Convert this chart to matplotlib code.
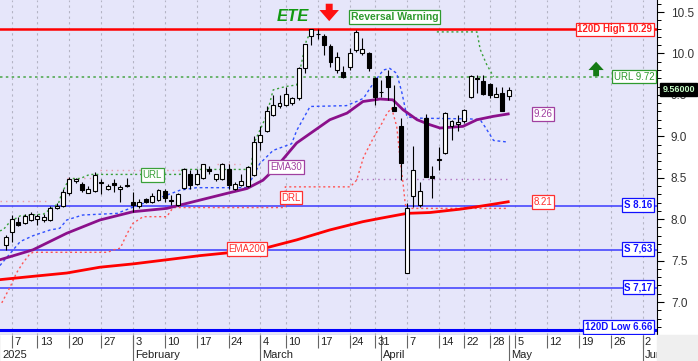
import numpy as np
import pandas as pd
import matplotlib
matplotlib.use('Agg')
import matplotlib.pyplot as plt
from matplotlib.ticker import MultipleLocator
from matplotlib.transforms import blended_transform_factory
from matplotlib.patches import Rectangle

plt.rcParams['font.family'] = ['Liberation Sans', 'DejaVu Sans']

# Athens exchange holidays 2025 (the axis only counts trading days)
HOLIDAYS = ['2025-01-01', '2025-01-06', '2025-03-03', '2025-03-25',
            '2025-04-18', '2025-04-21', '2025-05-01', '2025-06-09']

# daily candles
dates = ['2025-01-03', '2025-01-07', '2025-01-08', '2025-01-09', '2025-01-10',
         '2025-01-13', '2025-01-14', '2025-01-15', '2025-01-16', '2025-01-17',
         '2025-01-20', '2025-01-21', '2025-01-22', '2025-01-23', '2025-01-24',
         '2025-01-27', '2025-01-28', '2025-01-29', '2025-01-30', '2025-01-31',
         '2025-02-03', '2025-02-04', '2025-02-05', '2025-02-06', '2025-02-07',
         '2025-02-10', '2025-02-11', '2025-02-12', '2025-02-13', '2025-02-14',
         '2025-02-17', '2025-02-18', '2025-02-19', '2025-02-20', '2025-02-21',
         '2025-02-24', '2025-02-25', '2025-02-26', '2025-02-27', '2025-02-28',
         '2025-03-04', '2025-03-05', '2025-03-06', '2025-03-07',
         '2025-03-10', '2025-03-11', '2025-03-12', '2025-03-13', '2025-03-14',
         '2025-03-17', '2025-03-18', '2025-03-19', '2025-03-20', '2025-03-21',
         '2025-03-24', '2025-03-26', '2025-03-27', '2025-03-28',
         '2025-03-31', '2025-04-01', '2025-04-02', '2025-04-03', '2025-04-04',
         '2025-04-07', '2025-04-08', '2025-04-09', '2025-04-10', '2025-04-11',
         '2025-04-14', '2025-04-15', '2025-04-16', '2025-04-17',
         '2025-04-22', '2025-04-23', '2025-04-24', '2025-04-25',
         '2025-04-28', '2025-04-29', '2025-04-30', '2025-05-02']
opens = [7.69, 7.85, 7.96, 7.95, 7.99, 8.00, 7.99, 7.99, 8.13, 8.16,
         8.31, 8.46, 8.43, 8.32, 8.34, 8.44, 8.37, 8.44, 8.36, 8.40,
         8.21, 8.16, 8.24, 8.21, 8.23, 8.34, 8.23, 8.17, 8.38, 8.55,
         8.42, 8.50, 8.61, 8.49, 8.48, 8.61, 8.37, 8.41, 8.40, 8.53,
         8.93, 9.06, 9.26, 9.37, 9.38, 9.40, 9.46, 9.82, 10.21,
         10.24, 10.21, 10.09, 9.80, 9.78, 9.84, 10.04, 10.01, 10.00,
         9.70, 9.53, 9.73, 9.35, 9.12, 7.35, 8.28, 8.17, 9.22, 8.52,
         8.72, 8.80, 9.12, 9.15, 9.18, 9.47, 9.70, 9.67,
         9.63, 9.47, 9.52, 9.49]
highs = [7.81, 8.05, 8.03, 8.06, 8.09, 8.06, 8.06, 8.16, 8.19, 8.36,
         8.51, 8.50, 8.45, 8.40, 8.57, 8.48, 8.43, 8.49, 8.41, 8.50,
         8.33, 8.24, 8.26, 8.32, 8.36, 8.36, 8.29, 8.32, 8.62, 8.59,
         8.61, 8.67, 8.64, 8.55, 8.68, 8.66, 8.45, 8.55, 8.64, 9.00,
         9.12, 9.36, 9.50, 9.50, 9.60, 9.48, 9.84, 10.12, 10.30,
         10.29, 10.24, 10.11, 10.02, 9.85, 10.06, 10.28, 10.19, 10.02,
         9.72, 9.68, 9.80, 9.62, 9.22, 8.20, 8.88, 8.45, 9.27, 8.64,
         8.87, 9.29, 9.20, 9.26, 9.33, 9.74, 9.74, 9.74,
         9.64, 9.60, 9.60, 9.60]
lows = [7.63, 7.72, 7.92, 7.94, 7.98, 7.93, 7.97, 7.98, 8.12, 8.15,
        8.29, 8.44, 8.33, 8.31, 8.33, 8.30, 8.35, 8.33, 8.21, 8.39,
        8.09, 8.13, 8.20, 8.19, 8.22, 8.21, 8.17, 8.16, 8.37, 8.37,
        8.41, 8.49, 8.55, 8.46, 8.47, 8.37, 8.35, 8.40, 8.39, 8.52,
        8.83, 9.05, 9.24, 9.34, 9.37, 9.38, 9.44, 9.76, 10.10,
        10.18, 9.98, 9.84, 9.77, 9.70, 9.80, 10.02, 9.98, 9.79,
        9.38, 9.48, 9.44, 9.30, 8.47, 7.35, 8.15, 8.15, 8.51, 8.25,
        8.59, 8.79, 8.96, 9.06, 9.16, 9.46, 9.52, 9.50,
        9.46, 9.47, 9.31, 9.44]
closes = [7.78, 8.00, 7.93, 8.04, 8.06, 8.04, 8.03, 8.13, 8.16, 8.33,
          8.49, 8.48, 8.35, 8.36, 8.53, 8.45, 8.40, 8.41, 8.39, 8.41,
          8.17, 8.21, 8.21, 8.28, 8.35, 8.26, 8.22, 8.30, 8.60, 8.41,
          8.55, 8.66, 8.58, 8.54, 8.66, 8.41, 8.42, 8.46, 8.63, 8.93,
          9.02, 9.31, 9.38, 9.40, 9.51, 9.46, 9.83, 10.11, 10.29,
          10.23, 10.10, 9.90, 9.96, 9.72, 10.01, 10.26, 10.05, 9.82,
          9.48, 9.54, 9.60, 9.30, 8.68, 8.13, 8.59, 8.34, 8.51, 8.50,
          8.73, 9.28, 9.18, 9.17, 9.32, 9.73, 9.69, 9.51,
          9.50, 9.51, 9.31, 9.56]

# indicator lines, sampled off the chart (x in trading-day units)
ema30_x = [0.1, 5.3, 10.6, 15.8, 21.0, 26.3, 31.5, 36.2, 38.9, 41.4, 43.3, 46.7,
           51.9, 54.6, 57.1, 59.8, 61.8, 63.4, 65.6, 67.6, 69.2, 72.8, 73.9, 75.0,
           77.5, 79.9]
ema30_v = [7.51, 7.63, 7.83, 7.99, 8.09, 8.13, 8.23, 8.32, 8.37, 8.47, 8.61, 8.92,
           9.20, 9.28, 9.42, 9.45, 9.44, 9.32, 9.20, 9.14, 9.10, 9.12, 9.16, 9.20,
           9.24, 9.27]
ema200_x = [0.1, 5.3, 10.6, 15.8, 21.0, 26.3, 31.5, 36.7, 41.7, 46.7, 51.9, 57.1,
            59.8, 64.0, 67.6, 72.3, 75.0, 77.5, 79.9]
ema200_v = [7.27, 7.31, 7.35, 7.42, 7.46, 7.51, 7.56, 7.60, 7.65, 7.75, 7.87, 7.97,
            8.01, 8.07, 8.08, 8.12, 8.15, 8.18, 8.21]
band_x = [0.1, 3.3, 5.3, 8.0, 9.5, 10.6, 13.1, 18.5, 20.5, 22.6, 26.3, 28.4, 31.0,
          38.8, 39.4, 40.9, 43.0, 45.9, 46.7, 48.8, 54.5, 56.1, 57.2, 58.2, 59.3,
          60.3, 61.3, 62.4, 63.2, 64.0, 65.0, 73.9, 75.5, 76.3, 77.6, 79.9]
band_v = [7.44, 7.73, 7.80, 7.87, 7.89, 7.99, 8.05, 8.07, 8.13, 8.19, 8.29, 8.35, 8.38,
          8.38, 8.45, 8.67, 8.83, 8.91, 9.07, 9.36, 9.37, 9.42, 9.46, 9.58, 9.70,
          9.80, 9.82, 9.76, 9.53, 9.24, 9.22, 9.21, 9.20, 9.11, 8.95, 8.93]
drl_x = [0.4, 1.7, 2.7, 3.7, 4.8, 5.3, 17.0, 18.0, 19.0, 20.1, 21.0, 22.6, 26.3,
         27.3, 44.9, 44.9, 55.1, 56.1, 57.2, 58.8, 60.1, 60.9, 61.6, 62.4, 62.9,
         63.4, 63.7, 63.9, 79.9]
drl_v = [6.99, 7.18, 7.35, 7.47, 7.58, 7.60, 7.60, 7.63, 7.65, 7.83, 7.95, 8.03, 8.03,
         8.14, 8.14, 8.39, 8.39, 8.47, 8.75, 8.99, 9.16, 9.28, 9.34, 9.12, 8.75,
         8.43, 8.21, 8.13, 8.13]
url_x = [0.1, 0.6, 1.7, 3.3, 5.1, 6.9, 8.0, 9.3, 9.8, 10.6, 11.4, 12.7, 14.2,
         28.4, 28.7, 38.8, 39.6, 40.0, 41.2, 42.0, 43.0, 44.9, 46.7, 47.5, 48.2, 49.0]
url_v = [7.86, 7.87, 7.97, 8.04, 8.05, 8.06, 8.12, 8.19, 8.31, 8.43, 8.49, 8.49, 8.54,
         8.54, 8.60, 8.60, 8.66, 8.92, 9.12, 9.26, 9.56, 9.60, 9.62, 9.90, 10.15, 10.28]
url2_x = [68.7, 75.0, 75.5, 76.5, 77.6]
url2_v = [10.26, 10.26, 10.05, 9.87, 9.72]

levels_s = [8.16, 7.63, 7.17]
level_labels = ['S 8.16', 'S 7,63', 'S 7,17']
high_120d = 10.29
low_120d = 6.66
url_level = 9.72
last_price = 9.56

week_ticks = ['2025-01-07', '2025-01-13', '2025-01-20', '2025-01-27', '2025-02-03',
              '2025-02-10', '2025-02-17', '2025-02-24', '2025-03-04', '2025-03-10',
              '2025-03-17', '2025-03-24', '2025-03-31', '2025-04-07', '2025-04-14',
              '2025-04-22', '2025-04-28', '2025-05-05', '2025-05-12', '2025-05-19',
              '2025-05-26', '2025-06-02']
month_ticks = ['2025-01-02', '2025-02-03', '2025-03-04', '2025-04-01', '2025-05-02',
               '2025-06-02']
month_names = ['2025', 'February', 'March', 'April', 'May', 'Jun']

days = pd.bdate_range('2025-01-02', '2025-06-20')
days = days[~days.isin(pd.to_datetime(HOLIDAYS))]
pos = {d.strftime('%Y-%m-%d'): i for i, d in enumerate(days)}

fig = plt.figure(figsize=(6.98, 3.61), dpi=100)
ax = fig.add_axes([0, 26 / 361, 657 / 698, 335 / 361])
ax.set_facecolor('#e6e6fa')
ax.set_xlim(0.12, 103.26)
ax.set_ylim(6.602, 10.645)

# weekly grid
wk = [pos[d] for d in week_ticks]
ax.vlines(wk, 6.602, 10.645, color='#b4b4c4', lw=0.8, linestyles=(0, (2, 3)), zorder=1)

# horizontal levels
ax.axhline(high_120d, color='#ff0000', lw=1.8, zorder=2)
ax.axhline(url_level, color='#55aa55', lw=1.2, ls=(0, (1.5, 2)), zorder=2)
for v in levels_s:
    ax.axhline(v, color='#3a3aff', lw=1.1, zorder=2)
ax.axhline(low_120d, color='#0000ff', lw=2.2, zorder=2)

# faint resistance dots
ax.hlines([8.22, 8.50, 8.59, 8.67], [0.1, 10.6, 15.8, 34.2], [7.9, 14.7, 28.4, 37.8],
          color='#e89aa8', lw=1.0, linestyles=(0, (1, 3)), zorder=2)
ax.hlines(8.48, 55.0, 80.2, color='#b070c0', lw=1.0, linestyles=(0, (1, 3)), zorder=2)

# indicators
ax.plot(band_x, band_v, color='#3050ff', lw=1.0, ls=(0, (2, 2)), zorder=3)
ax.plot(drl_x, drl_v, color='#ff5555', lw=1.0, ls=(0, (1.5, 2)), zorder=3)
ax.plot(url_x, url_v, color='#3aa03a', lw=1.0, ls=(0, (1.5, 2)), zorder=3)
ax.plot(url2_x, url2_v, color='#3aa03a', lw=1.0, ls=(0, (1.5, 2)), zorder=3)
ax.plot(ema200_x, ema200_v, color='#ff0000', lw=2.0, zorder=4)
ax.plot(ema30_x, ema30_v, color='#8b108b', lw=2.0, zorder=4)

# candles
x = np.array([pos[d] for d in dates])
o, h, l, c = map(np.array, (opens, highs, lows, closes))
up = c >= o
ax.vlines(x, l, h, color='black', lw=0.8, zorder=5)
ax.bar(x, np.maximum(np.abs(c - o), 0.006), bottom=np.minimum(o, c), width=0.62,
       color=np.where(up, 'white', 'black'), edgecolor='black', lw=0.8, zorder=6)

# boxed labels
def tag(xv, yv, s, color, bold=False, ha='center', trans=None, size=7):
    ax.text(xv, yv, s, color=color, fontsize=size, fontweight='bold' if bold else 'normal',
            ha=ha, va='center', transform=trans or ax.transData, zorder=9,
            bbox=dict(boxstyle='square,pad=0.18', fc='white', ec=color, lw=0.9))

rt = blended_transform_factory(ax.transAxes, ax.transData)
tag(0.993, high_120d, '120D High 10.29', '#ff2020', bold=True, ha='right', trans=rt)
tag(0.996, url_level, 'URL 9.72', '#2e9a2e', ha='right', trans=rt)
for v, s in zip(levels_s, level_labels):
    tag(0.993, v + 0.01, s, '#1010ff', bold=True, ha='right', trans=rt)
tag(0.993, low_120d + 0.04, '120D Low 6.66', '#1010ff', bold=True, ha='right', trans=rt)
tag(85.4, 9.27, '9.26', '#a040a0')
tag(85.4, 8.21, '8.21', '#ff3030')
tag(45.0, 8.63, 'EMA30', '#a040a0')
tag(45.8, 8.26, 'DRL', '#ff3030')
tag(38.9, 7.64, 'EMA200', '#ff3030')
tag(24.0, 8.53, 'URL', '#3aa03a')
tag(62.1, 10.44, 'Reversal Warning', '#2e9a2e', bold=True, size=7.5)

ax.text(46.1, 10.45, 'ETE', color='#119911', fontsize=12, fontweight='bold',
        fontstyle='italic', ha='center', va='center', zorder=9)
ax.annotate('', xy=(51.8, 10.39), xytext=(51.8, 10.60),
            arrowprops=dict(arrowstyle='simple,head_length=0.8,head_width=1.4,tail_width=0.5',
                            color='#ff1010', lw=0, shrinkA=0, shrinkB=0), zorder=9)
ax.annotate('', xy=(93.7, 9.90), xytext=(93.7, 9.725),
            arrowprops=dict(arrowstyle='simple,head_length=0.6,head_width=1.1,tail_width=0.42',
                            color='#157a15', lw=0, shrinkA=0, shrinkB=0), zorder=9)

# last price on the axis
ax.text(1.008, last_price, '9.56000', transform=rt, ha='left', va='center',
        color='#c8ffc8', fontsize=6.5, fontweight='bold', clip_on=False, zorder=10,
        bbox=dict(boxstyle='square,pad=0.22', fc='black', ec='black'))

# right price axis
ax.yaxis.tick_right()
ax.set_yticks(np.arange(7.0, 10.51, 0.5))
ax.set_yticklabels([f'{v:.1f}' for v in np.arange(7.0, 10.51, 0.5)])
ax.yaxis.set_minor_locator(MultipleLocator(0.1))
ax.tick_params(axis='y', which='major', length=5, width=0.8, labelsize=8.5, pad=5,
               labelcolor='#333333')
ax.tick_params(axis='y', which='minor', length=3, width=0.7)
ax.set_xticks([])
for side in ('left', 'top'):
    ax.spines[side].set_visible(False)
ax.spines['right'].set_color('black')
ax.spines['bottom'].set_color('#888888')

# date strip
dax = fig.add_axes([0, 0, 657 / 698, 26 / 361])
dax.set_xlim(ax.get_xlim())
dax.set_ylim(0, 2)
dax.set_xticks([])
dax.set_yticks([])
for sp in dax.spines.values():
    sp.set_visible(False)
for d in week_ticks:
    p = pos[d]
    dax.vlines(p, 1, 2, color='#666666', lw=0.8)
    dax.text(p + 0.35, 1.45, str(int(d[-2:])), fontsize=8, ha='left', va='center',
             color='#222222')
for d, name in zip(month_ticks, month_names):
    p = pos[d]
    dax.vlines(p, 0, 2, color='#666666', lw=0.8)
    dax.text(max(p, 0.2) + 0.3, 0.48, name, fontsize=8, ha='left', va='center',
             color='#222222')
fig.patches.append(Rectangle((657 / 698, 0), 41 / 698, 26 / 361,
                             transform=fig.transFigure, color='#efefef', zorder=0))

fig.savefig('out.png', dpi=100)
